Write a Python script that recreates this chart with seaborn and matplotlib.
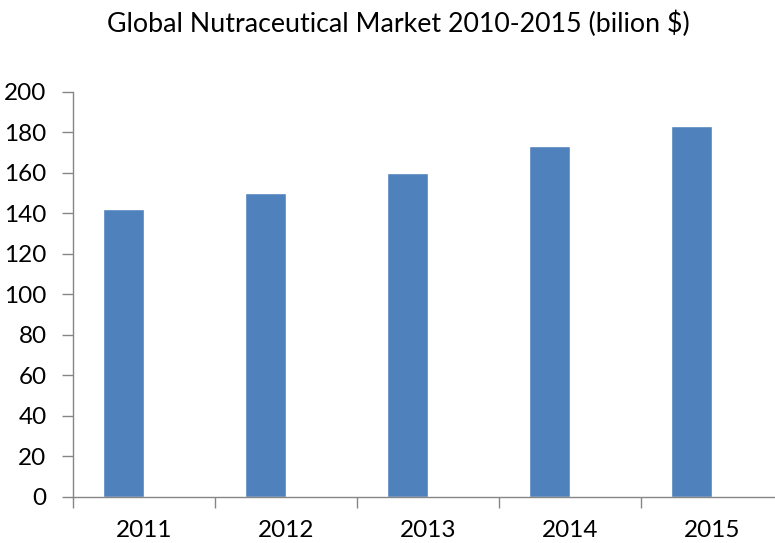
import matplotlib
matplotlib.use("Agg")
import matplotlib.pyplot as plt
import seaborn as sns
import pandas as pd
from matplotlib.ticker import FixedLocator

years = ["2011", "2012", "2013", "2014", "2015"]
market = [142, 150, 160, 173, 183]

df = pd.DataFrame({"year": years, "value": market, "series": "Market"})

sns.set_theme(style="white")
plt.rcParams["font.family"] = ["Lato", "DejaVu Sans"]

fig = plt.figure(figsize=(7.75, 5.43), dpi=100)
ax = fig.add_axes([73 / 775, 46.3 / 543, 710 / 775, 405 / 543])

# excel style: second (empty) series slot pushes the bar left of centre
sns.barplot(data=df, x="year", y="value", hue="series",
            hue_order=["Market", "_empty"], palette=["#4F81BD", "#C0504D"],
            width=0.577, dodge=True, legend=False, ax=ax, errorbar=None,
            saturation=1)

ax.set_xlim(-0.5, len(years) - 0.5)
ax.set_ylim(0, 200)
ax.set_yticks(range(0, 201, 20))
ax.set_xlabel("")
ax.set_ylabel("")

ax.xaxis.set_minor_locator(FixedLocator([i - 0.5 for i in range(len(years) + 1)]))
ax.tick_params(axis="x", which="major", length=0, pad=17, labelsize=17.5, colors="black")
ax.tick_params(axis="x", which="minor", length=8, width=1, color="#868686", direction="out", bottom=True)
ax.tick_params(axis="y", length=8, width=1, color="#868686", direction="out", pad=11,
               labelsize=17.5, labelcolor="black", left=True)

for s in ["top", "right"]:
    ax.spines[s].set_visible(False)
for s in ["left", "bottom"]:
    ax.spines[s].set_color("#868686")
    ax.spines[s].set_linewidth(1)

fig.text(398 / 775, 1 - 24 / 543, "Global Nutraceutical Market 2010-2015 (bilion $)",
         ha="center", va="center", fontsize=19.3, color="black")

fig.savefig("out.png", dpi=100)
